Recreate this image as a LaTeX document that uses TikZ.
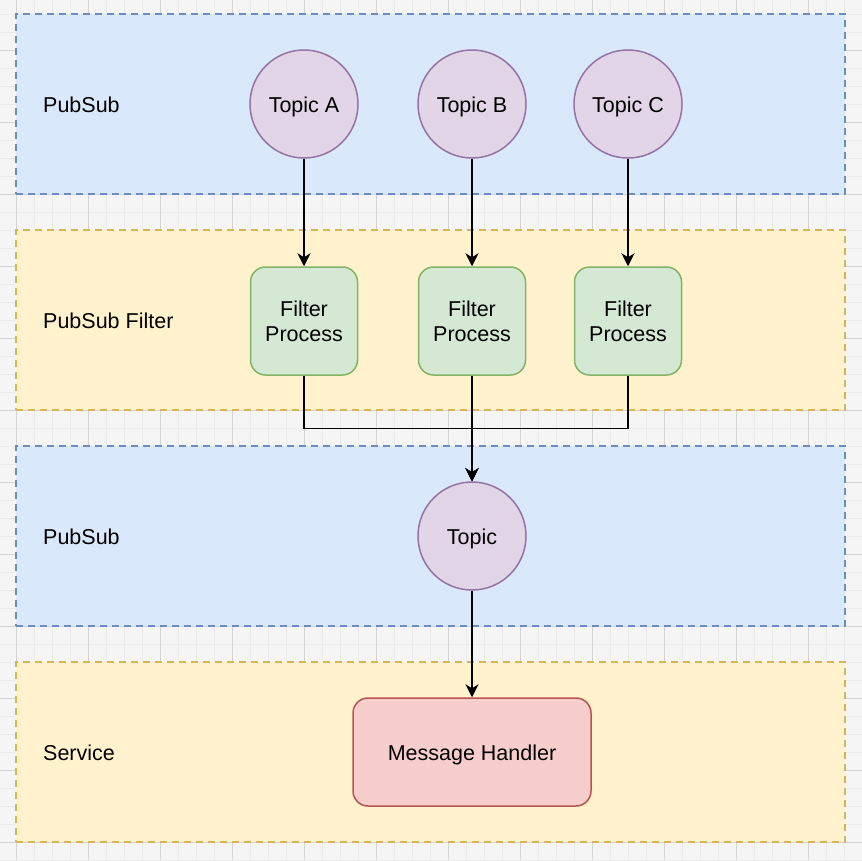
\documentclass[tikz,border=0pt]{standalone}
\usepackage{fontspec}
\setmainfont{Liberation Sans}
\usetikzlibrary{arrows.meta}
\definecolor{bgc}{HTML}{F5F5F5}
\definecolor{gridminor}{HTML}{EBEBEB}
\definecolor{gridmajor}{HTML}{D4D4D4}
\definecolor{bluefill}{HTML}{DAE8FC}
\definecolor{bluestroke}{HTML}{6C8EBF}
\definecolor{yellowfill}{HTML}{FFF2CC}
\definecolor{yellowstroke}{HTML}{D6B656}
\definecolor{purplefill}{HTML}{E1D5E7}
\definecolor{purplestroke}{HTML}{9673A6}
\definecolor{greenfill}{HTML}{D5E8D4}
\definecolor{greenstroke}{HTML}{82B366}
\definecolor{redfill}{HTML}{F8CECC}
\definecolor{redstroke}{HTML}{B85450}
\begin{document}
\begin{tikzpicture}[x=1pt,y=-1pt,
  every node/.style={font=\fontsize{21.5}{25}\selectfont, text=black},
  oneline/.style={text height=17.5pt, text depth=0pt},
  band/.style={draw, line width=1.3pt, dash pattern=on 7pt off 5pt, minimum width=829pt, minimum height=180pt, inner sep=0pt},
  blueband/.style={band, fill=bluefill, draw=bluestroke},
  yellowband/.style={band, fill=yellowfill, draw=yellowstroke},
  bandlabel/.style={anchor=west, inner sep=0pt, oneline},
  topic/.style={circle, draw=purplestroke, fill=purplefill, line width=1.5pt, minimum size=108pt, inner sep=0pt, oneline},
  filterbox/.style={rectangle, rounded corners=15pt, draw=greenstroke, fill=greenfill, line width=1.5pt, minimum width=107pt, minimum height=108pt, inner sep=0pt, align=center},
  handler/.style={rectangle, rounded corners=15pt, draw=redstroke, fill=redfill, line width=1.5pt, minimum width=238pt, minimum height=108pt, inner sep=0pt, oneline},
  conn/.style={draw=black, line width=1.6pt, -{Stealth[length=13pt,width=13pt,inset=4pt]}}
]
\useasboundingbox (0,0) rectangle (862,860);
\fill[bgc] (0,0) rectangle (862,860);
% grid
\foreach \k in {0,...,48} \draw[gridminor, line width=0.8pt] ({16+18*(\k-1)},0) -- ({16+18*(\k-1)},860);
\foreach \k in {0,...,48} \draw[gridminor, line width=0.8pt] (0,{14+18*(\k-1)}) -- (862,{14+18*(\k-1)});
\foreach \k in {0,...,11} \draw[gridmajor, line width=0.8pt] ({16+72*\k},0) -- ({16+72*\k},860);
\foreach \k in {0,...,11} \draw[gridmajor, line width=0.8pt] (0,{50+72*\k}) -- (862,{50+72*\k});

% bands
\node[blueband] (band1) at (430.5,104) {};
\node[yellowband] (band2) at (430.5,320) {};
\node[blueband] (band3) at (430.5,536) {};
\node[yellowband] (band4) at (430.5,752) {};

\node[bandlabel] (lab1) at (43,104) {PubSub};
\node[bandlabel] (lab2) at (43,320) {PubSub Filter};
\node[bandlabel] (lab3) at (43,536) {PubSub};
\node[bandlabel] (lab4) at (43,752) {Service};

% topics
\node[topic] (ta) at (304,104) {Topic A};
\node[topic] (tb) at (472,104) {Topic B};
\node[topic] (tc) at (628,104) {Topic C};

% filters
\node[filterbox] (fa) at (304,321) {Filter\\Process};
\node[filterbox] (fb) at (472,321) {Filter\\Process};
\node[filterbox] (fc) at (628,321) {Filter\\Process};

% lower
\node[topic] (t) at (472,536) {Topic};
\node[handler] (mh) at (472,752) {Message Handler};

\coordinate (ja) at (304,428.5);
\coordinate (jc) at (628,428.5);

% connectors
\draw[conn] (ta) -- (fa);
\draw[conn] (tb) -- (fb);
\draw[conn] (tc) -- (fc);
\draw[conn] (fa.south) -- (ja) -- (ja -| t.north) -- (t.north);
\draw[conn] (fc.south) -- (jc) -- (jc -| t.north) -- (t.north);
\draw[conn] (fb) -- (t);
\draw[conn] (t) -- (mh);
\end{tikzpicture}
\end{document}
